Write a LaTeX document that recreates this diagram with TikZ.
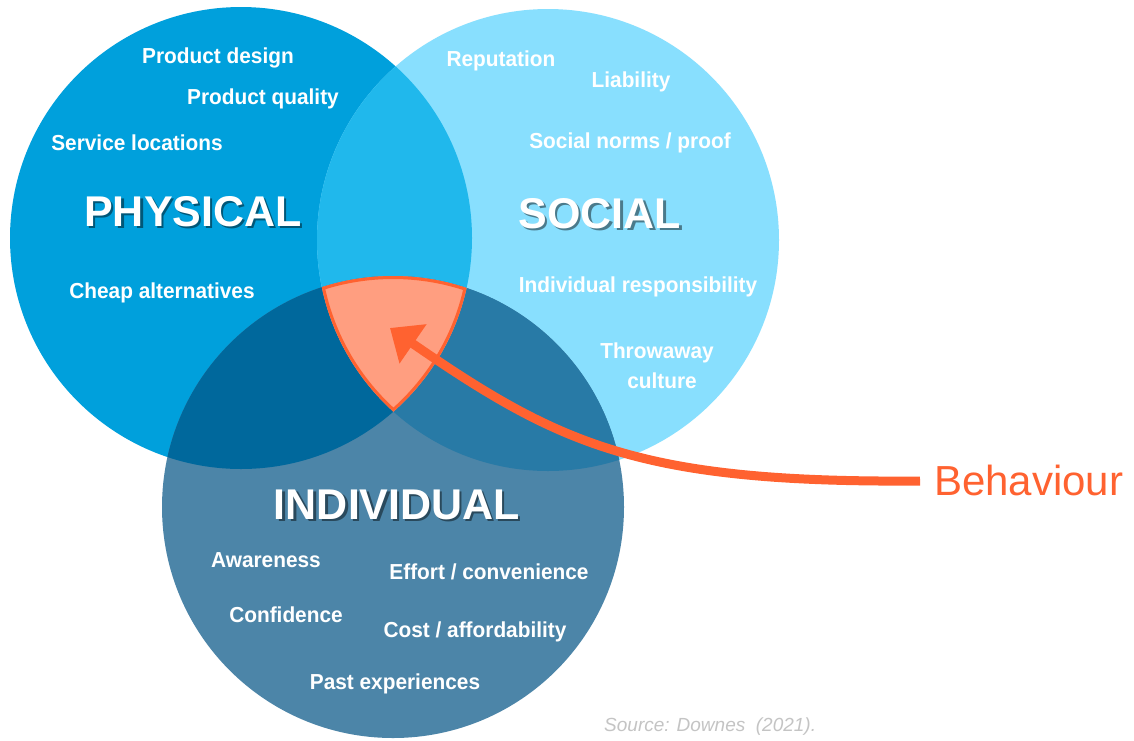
\documentclass[tikz,border=0pt]{standalone}
\usepackage{fontspec}
\setmainfont{Liberation Sans}
\newfontfamily\factorfamily[FakeStretch=0.96]{Liberation Sans}
\usetikzlibrary{arrows.meta}

% region colours of the three-set diagram
\definecolor{physfill}{HTML}{00A0DC}
\definecolor{socfill}{HTML}{88DFFE}
\definecolor{indfill}{HTML}{4C85A8}
\definecolor{physsoc}{HTML}{20B8EC}
\definecolor{physind}{HTML}{00689C}
\definecolor{socind}{HTML}{287AA6}
\definecolor{corefill}{HTML}{FF9E80}
\definecolor{accent}{HTML}{FF6230}
\definecolor{sourcegray}{HTML}{C4C4C4}

\begin{document}
\begin{tikzpicture}[x=1pt,y=-1pt,
  factor/.style={text=white, font=\factorfamily\bfseries\fontsize{21.7}{26}\selectfont,
                 anchor=base, inner sep=0pt},
  heading/.style={text=white, font=\bfseries\fontsize{43}{50}\selectfont,
                  anchor=base, inner sep=0pt},
  headshadow/.style={heading, text=black, opacity=0.45, xshift=2.2pt, yshift=-2.2pt},
  arrowline/.style={draw=accent, line width=9pt,
                    -{Triangle[length=28pt,width=46pt]}},
  callout/.style={text=accent, font=\fontsize{42}{48}\selectfont,
                  anchor=base west, inner sep=0pt},
  sourcenote/.style={text=sourcegray, font=\itshape\fontsize{19}{22}\selectfont,
                     anchor=base west, inner sep=0pt}
]
\def\rad{231}
\useasboundingbox (0,0) rectangle (1134,740);
\fill[white] (0,0) rectangle (1134,740);

% circle centres
\coordinate (P) at (241,238);
\coordinate (S) at (548,240);
\coordinate (I) at (393,507);

% single sets
\fill[physfill] (P) circle[radius=\rad];
\fill[socfill]  (S) circle[radius=\rad];
\fill[indfill]  (I) circle[radius=\rad];

% pairwise overlaps
\begin{scope}
  \clip (P) circle[radius=\rad];
  \fill[physsoc] (S) circle[radius=\rad];
  \fill[physind] (I) circle[radius=\rad];
\end{scope}
\begin{scope}
  \clip (S) circle[radius=\rad];
  \fill[socind] (I) circle[radius=\rad];
\end{scope}

% triple overlap with its outline
\begin{scope}
  \clip (P) circle[radius=\rad];
  \clip (S) circle[radius=\rad];
  \clip (I) circle[radius=\rad];
  \fill[corefill] (I) circle[radius=\rad];
  \draw[accent, line width=6pt]
    (P) circle[radius=\rad] (S) circle[radius=\rad] (I) circle[radius=\rad];
\end{scope}

% headings with drop shadows
\node[headshadow] (physshadow) at (193,226) {PHYSICAL};
\node[heading]    (physical)   at (193,226) {PHYSICAL};
\node[headshadow] (socshadow)  at (600,228) {SOCIAL};
\node[heading]    (social)     at (600,228) {SOCIAL};
\node[headshadow] (indshadow)  at (397,519) {INDIVIDUAL};
\node[heading]    (individual) at (397,519) {INDIVIDUAL};

% physical factors
\node[factor] (design)   at (218,63)  {Product design};
\node[factor] (quality)  at (263,104) {Product quality};
\node[factor] (service)  at (137,150) {Service locations};
\node[factor] (cheap)    at (162,298) {Cheap alternatives};

% social factors
\node[factor] (reputation) at (501,66)  {Reputation};
\node[factor] (liability)  at (631,87)  {Liability};
\node[factor] (norms)      at (630,148) {Social norms / proof};
\node[factor] (responsib)  at (638,292) {Individual responsibility};
\node[factor] (throwaway)  at (657,358) {Throwaway};
\node[factor] (culture)    at (662,388) {culture};

% individual factors
\node[factor] (awareness)  at (266,567) {Awareness};
\node[factor] (effort)     at (489,579) {Effort / convenience};
\node[factor] (confidence) at (286,622) {Confidence};
\node[factor] (cost)       at (475,637) {Cost / affordability};
\node[factor] (past)       at (395,689) {Past experiences};

% behaviour callout
\node[callout] (behaviour) at (934,495) {Behaviour};
\coordinate (tail) at (920,481);
\coordinate (tip)  at (390,328);
\draw[arrowline] (tail) .. controls (640,483) and (560,445) .. (tip);

\node[sourcenote] (source) at (604,731) {Source: Downes\ \ (2021).};
\end{tikzpicture}
\end{document}
